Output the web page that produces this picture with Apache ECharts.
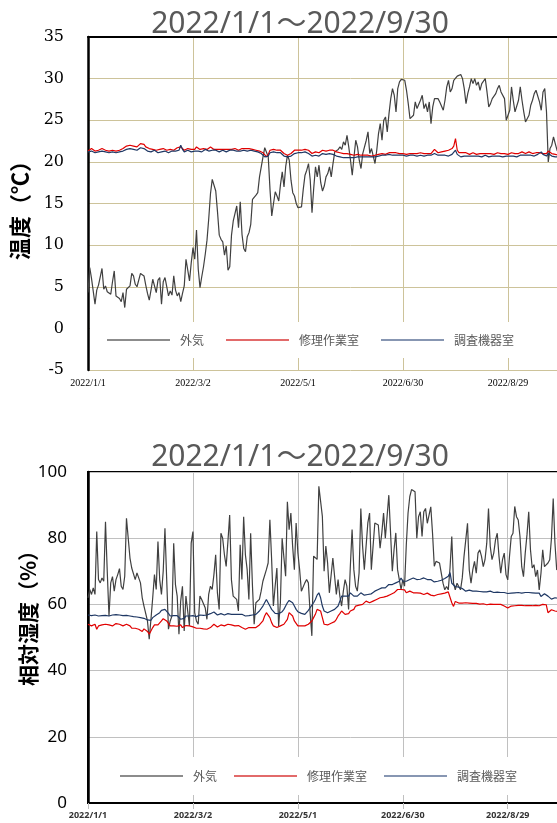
<!DOCTYPE html>
<html><head><meta charset="utf-8">
<script src="https://cdn.jsdelivr.net/npm/echarts@6/dist/echarts.min.js"></script>
<style>html,body{margin:0;padding:0;width:557px;height:823px;overflow:hidden;background:#fff}#c{width:640px;height:823px}</style>
</head><body><div id="c"></div>
<script>
const titleText = '2022/1/1～2022/9/30';
const seriesNames = ['外気', '修理作業室', '調査機器室'];
const xTickLabels = ['2022/1/1', '2022/3/2', '2022/5/1', '2022/6/30', '2022/8/29', '2022/10/28'];
const tempTicks = [-5, 35, 5];
const rhTicks = [0, 100, 20];

const tempOut = [
4.3,7.3,6.0,5.9,2.9,4.6,5.2,6.2,7.2,4.7,
5.1,4.4,4.6,4.1,5.6,6.9,3.9,3.8,3.6,3.2,
4.3,2.5,4.7,4.5,5.1,6.6,6.3,5.3,5.0,5.1,
6.6,6.5,6.3,5.2,4.2,3.4,4.6,5.9,6.1,4.3,
5.8,6.1,2.9,5.6,6.1,6.0,3.9,4.5,4.0,6.3,
4.6,3.9,4.3,3.2,4.2,5.1,8.3,8.4,5.7,7.9,
9.7,8.3,11.8,7.1,4.9,6.2,7.4,8.9,10.6,13.2,
16.2,17.9,18.0,16.5,14.0,11.2,10.7,10.4,8.8,9.9,
7.0,7.4,11.2,12.9,13.1,14.7,12.1,15.2,11.3,9.6,
9.2,11.0,11.5,12.5,15.5,15.6,16.0,16.3,18.2,18.3,
20.6,21.7,21.5,20.6,16.7,13.5,15.0,16.4,15.9,15.3,
17.3,18.8,17.0,19.5,20.8,20.2,17.8,16.3,15.9,15.0,
14.5,14.3,14.6,16.7,18.4,19.0,19.8,17.8,13.9,16.9,
19.4,18.2,19.6,17.5,16.5,17.1,18.2,18.6,19.4,18.2,
19.8,21.2,21.4,21.5,21.8,21.5,22.4,22.0,23.2,21.8,
20.2,18.4,20.6,22.6,21.8,20.2,19.2,21.0,20.8,22.6,
23.6,21.0,21.6,21.6,19.8,21.4,23.4,24.6,22.6,25.0,
25.4,23.6,25.8,27.6,28.8,28.0,26.0,28.8,29.6,29.9,
30.0,29.8,28.6,27.0,25.2,25.1,25.6,27.2,26.4,26.6,
27.4,28.0,26.4,27.0,26.0,27.2,24.6,26.6,27.6,27.4,
27.6,27.2,27.4,26.2,27.4,29.0,29.8,28.4,28.8,29.8,
30.0,30.3,30.5,30.5,30.0,28.8,27.0,28.2,29.0,30.0,
29.4,30.0,29.2,29.6,28.6,29.4,29.4,30.0,28.4,26.6,
27.0,27.6,27.4,28.2,28.8,29.2,28.4,28.6,27.6,25.0,
25.6,26.2,29.0,27.4,26.0,25.8,27.4,29.0,27.4,26.0,
24.8,24.6,25.6,26.8,27.4,28.2,28.6,28.4,27.2,26.2,
28.4,28.8,26.0,20.0,21.6,22.0,23.0,22.2,21.4,21.0,
21.8,22.4,21.6];

const tempRepair = [
21.3,21.4,21.6,21.4,21.3,21.5,21.4,21.3,21.6,21.5,
21.4,21.4,21.3,21.5,21.4,21.4,21.3,21.4,21.4,21.5,
21.6,21.8,21.9,21.9,22.0,22.0,21.9,21.7,21.8,22.0,
22.2,22.3,22.1,21.8,21.6,21.6,21.4,21.5,21.7,21.4,
21.3,21.5,21.4,21.6,21.5,21.4,21.3,21.5,21.6,21.4,
21.5,21.7,21.5,21.8,21.6,21.4,21.5,21.6,21.5,21.5,
21.6,21.5,21.8,21.6,21.5,21.4,21.6,21.7,21.5,21.6,
21.8,21.7,21.5,21.6,21.5,21.4,21.5,21.6,21.5,21.4,
21.5,21.6,21.5,21.7,21.6,21.5,21.4,21.5,21.6,21.7,
21.6,21.5,21.6,21.6,21.5,21.5,21.4,21.4,21.3,21.2,
21.1,20.9,20.6,20.9,21.4,21.4,21.5,21.5,21.4,21.5,
21.4,21.2,21.0,20.8,20.8,20.9,21.0,21.2,21.4,21.4,
21.4,21.5,21.4,21.4,21.5,21.4,21.4,21.2,21.0,21.2,
21.2,21.0,21.1,21.3,21.4,21.4,21.3,21.3,21.4,21.3,
21.4,21.3,21.2,21.2,21.1,21.0,21.0,21.1,21.0,20.9,
20.9,20.9,20.8,20.8,20.9,20.8,20.8,20.7,20.8,20.9,
20.8,20.8,20.7,20.6,20.8,20.9,20.9,21.0,21.0,21.0,
20.9,21.0,21.1,21.0,21.1,21.0,21.1,21.0,21.0,21.1,
21.0,21.0,20.9,21.0,21.0,20.9,21.0,21.1,21.0,21.0,
21.1,21.0,21.0,20.9,21.0,21.1,21.0,21.2,21.5,21.3,
21.1,21.1,21.2,21.2,21.3,21.3,21.4,21.4,21.6,21.9,
22.8,21.4,21.1,21.0,21.1,21.0,21.1,21.0,20.9,21.0,
21.1,21.0,20.9,21.0,21.0,20.9,21.0,21.1,21.0,20.9,
21.0,21.0,20.9,21.0,21.1,21.0,21.0,20.9,21.0,21.0,
20.9,21.0,21.1,21.0,21.0,20.9,21.0,21.1,21.2,21.1,
21.0,21.1,21.2,21.1,21.0,21.0,21.1,21.2,21.1,21.0,
21.0,21.1,21.0,21.3,21.1,21.0,20.9,20.9,20.8,20.8,
20.9,20.8,20.8];

const tempLab = [
21.2,21.2,21.3,21.2,21.1,21.3,21.2,21.2,21.3,21.2,
21.2,21.2,21.1,21.3,21.2,21.2,21.1,21.2,21.2,21.3,
21.3,21.4,21.5,21.5,21.6,21.6,21.5,21.4,21.4,21.6,
21.7,21.8,21.6,21.4,21.3,21.3,21.2,21.3,21.4,21.2,
21.1,21.3,21.2,21.3,21.3,21.2,21.1,21.3,21.3,21.2,
21.3,21.5,21.4,22.0,21.5,21.2,21.3,21.4,21.3,21.2,
21.4,21.3,21.5,21.3,21.2,21.2,21.4,21.5,21.3,21.3,
21.5,21.4,21.3,21.4,21.3,21.2,21.3,21.4,21.3,21.2,
21.3,21.4,21.3,21.4,21.4,21.3,21.2,21.3,21.4,21.4,
21.4,21.3,21.4,21.4,21.3,21.3,21.2,21.2,21.1,21.0,
20.8,20.6,20.5,20.7,21.1,21.1,21.2,21.2,21.1,21.2,
21.1,20.9,20.7,20.6,20.6,20.6,20.7,20.9,21.0,21.1,
21.1,21.2,21.1,21.1,21.2,21.1,21.0,20.9,20.7,20.8,
20.8,20.6,20.7,20.9,21.0,21.0,20.9,20.9,21.0,20.9,
20.9,20.8,20.7,20.6,20.6,20.5,20.5,20.6,20.5,20.5,
20.5,20.6,20.5,20.5,20.6,20.5,20.6,20.5,20.6,20.6,
20.6,20.7,20.6,20.5,20.6,20.7,20.7,20.8,20.8,20.8,
20.8,20.8,20.9,20.8,20.8,20.7,20.8,20.8,20.8,20.9,
20.8,20.7,20.7,20.8,20.8,20.7,20.8,20.8,20.7,20.7,
20.8,20.8,20.7,20.7,20.8,20.9,20.8,20.8,21.0,20.9,
20.8,20.8,20.8,20.7,20.8,20.8,20.7,20.8,20.9,21.1,
21.4,20.9,20.7,20.6,20.7,20.7,20.8,20.7,20.6,20.7,
20.8,20.7,20.6,20.7,20.7,20.6,20.7,20.8,20.7,20.6,
20.7,20.7,20.6,20.7,20.8,20.7,20.7,20.6,20.7,20.7,
20.6,20.7,20.8,20.7,20.7,20.6,20.7,20.8,20.9,20.8,
20.7,20.8,20.9,20.8,20.7,20.7,20.8,20.9,21.0,21.2,
20.9,20.8,20.7,21.0,20.8,20.7,20.6,20.6,20.5,20.6,
20.6,20.5,20.5];

const rhOut = [
62,64.5,63,65,63,82,67.5,66.5,68,67,
85,70,56.5,66.5,68.4,64,67.5,69,70.8,65.5,
64.5,68.5,86,80,74,71,70.5,67.5,69.5,68,
66.5,62,59.5,59,55,49.5,55.5,62,69,64.5,
79,67.5,63,70,83,67.5,52.5,55,56.5,78.5,
66,62.5,51,61,65.5,52,62.5,58,53.5,78.5,
82,57.5,55,54,62.5,61.5,61.5,59,55.5,63,
65.5,64.5,69,75,63.5,58.5,81.5,80,75,71.5,
79,87,67.5,62.5,62,61.5,58,78,67.5,86.5,
75,70.5,61.5,81.5,66,54,60.5,61,61.5,64,
67,67.5,70.5,72.5,85.6,73.5,59.5,65.5,71,53.5,
60.5,80,79.6,68.5,91,82.6,87.6,77.6,70.5,84.6,
75.6,70.5,64,63.5,66.5,67.5,66.5,57.5,50.5,74.6,
74,73.6,95.7,95.2,86.6,70,77.6,72.5,63.5,64,
74,68.5,63,67.5,62.5,59.5,64,67.5,65.5,58.5,
71.5,82.6,70.5,65.5,64,69.5,89,77.6,70.5,70,
84.6,87.6,70.5,70.5,84.6,85,84,77,81.6,87.6,
80,79.6,93,81.6,70,76.6,81.6,70.5,67.5,64.5,
67.5,65.5,78,87.6,92.6,94.7,94.5,94,80,86.5,
88,80.5,88,89,84.5,85,89.5,81.5,71.5,73,
73.5,72.5,72.5,66.4,64.4,65.4,64.4,71,80.5,66.4,
64.4,66.4,65.4,64.4,68,74.5,79.5,84.5,70.4,66.4,
70.4,73,69.4,75.5,76.5,74.5,71.4,73.5,78.5,89,
77.5,73.5,75.5,79.5,81.5,74.5,69.4,73.5,75.5,69,
67.4,74.5,80.5,81.5,89.6,86.5,85.5,80.5,71.4,68.4,
75.5,81,88,76.5,71,72,68.4,70.4,64.4,69.4,
76.5,71.4,72,72.5,73.5,80,92,78.5,70.4,72,
68,74,70];

const rhRepair = [
54.0,53.8,53.5,53.8,54.0,52.5,53.5,54.0,53.8,53.5,
54.0,54.2,53.8,54.0,53.5,54.0,54.2,53.8,54.0,53.6,
53.5,53.8,54.0,54.3,53.5,52.8,52.6,52.8,52.4,52.5,
52.0,51.8,52.6,52.2,51.8,51.0,51.5,53.0,53.8,54.0,
53.8,54.2,55.0,55.7,55.5,55.0,54.5,53.5,53.8,53.5,
53.6,53.4,53.5,53.8,53.0,53.5,53.6,53.8,53.5,53.4,
53.2,53.0,52.8,52.5,52.8,52.5,52.6,52.8,52.5,52.7,
53.0,53.4,54.0,53.4,53.2,53.5,53.8,53.6,53.5,53.8,
54.0,53.6,53.8,54.0,53.5,53.8,53.6,53.2,53.0,52.5,
52.5,52.8,53.0,53.2,53.0,53.2,53.0,53.5,53.8,54.2,
55.0,56.5,57.5,57.0,56.0,54.5,53.5,53.3,53.0,53.2,
53.5,53.5,54.0,54.5,55.5,57.5,57.0,56.5,55.0,54.5,
53.5,53.5,53.5,53.8,53.5,54.0,54.0,54.5,55.0,56.0,
57.0,58.5,59.0,58.0,56.0,54.0,53.5,53.8,54.0,54.3,
54.5,54.8,55.5,56.5,57.2,58.0,57.5,57.0,56.5,57.2,
58.0,57.8,58.5,59.5,60.0,59.8,59.5,60.0,60.5,61.0,
60.8,60.5,60.5,61.0,61.2,61.5,61.8,62.0,62.0,62.2,
62.5,62.5,62.8,63.0,63.2,63.5,64.0,64.5,65.0,64.5,
64.5,64.4,63.5,63.0,64.0,63.8,63.5,63.8,63.5,63.4,
63.4,63.2,63.0,63.3,63.4,63.0,62.8,62.6,62.6,62.8,
63.0,63.0,63.2,63.4,63.4,63.6,63.8,63.9,60.5,59.4,
60.9,60.6,60.4,60.5,60.4,60.6,60.5,60.2,60.4,60.5,
60.3,60.2,60.3,60.2,60.1,60.0,60.2,60.0,59.9,59.9,
60.1,60.2,60.0,59.9,60.0,60.1,60.0,59.8,59.5,59.0,
58.9,59.2,59.5,59.8,59.6,59.8,59.7,59.6,59.7,59.8,
59.6,59.7,59.6,59.7,59.6,59.8,59.7,59.8,59.6,59.9,
60.0,59.8,59.9,57.5,58.0,58.4,58.3,58.0,57.8,57.8,
58.0,57.8,58.0];

const rhLab = [
56.8,56.5,56.6,56.3,56.8,56.7,56.5,56.8,56.6,56.5,
56.7,56.8,56.5,56.6,56.8,56.7,56.9,56.6,56.8,56.5,
56.6,56.8,56.7,56.9,56.5,56.4,56.3,56.5,56.2,56.3,
56.0,55.8,55.8,55.5,55.3,55.0,55.2,56.0,56.6,56.8,
57.0,57.5,58.2,58.7,58.5,58.0,57.3,56.5,56.3,56.6,
56.5,56.6,56.3,55.5,55.0,55.8,56.5,56.6,56.5,56.8,
56.6,56.5,56.3,56.6,56.8,56.9,56.7,56.5,56.8,57.0,
57.2,57.5,57.7,57.2,56.8,57.0,57.2,57.0,56.8,57.0,
57.2,56.9,57.0,57.3,57.0,57.2,57.0,56.8,57.0,56.7,
56.5,56.5,56.6,56.5,56.8,56.6,57.0,57.5,58.0,58.5,
59.5,60.5,61.5,61.0,59.5,58.5,58.0,57.3,57.0,57.2,
57.5,57.8,58.5,59.5,60.5,61.2,61.5,60.5,59.5,58.5,
57.8,57.5,57.3,57.2,57.0,57.5,58.2,59.0,59.5,60.5,
61.5,62.8,63.5,62.0,59.5,58.0,57.6,57.5,57.8,58.0,
58.0,58.5,59.0,59.5,61.0,62.5,63.0,62.5,62.0,62.5,
63.5,63.2,62.5,62.0,62.5,63.0,63.5,63.0,62.8,62.5,
63.0,63.5,63.2,63.5,64.0,64.5,64.5,64.8,65.0,65.0,
65.0,65.5,66.0,66.2,66.0,66.5,66.5,66.8,67.0,68.0,
67.0,66.5,67.0,67.0,67.5,67.8,68.0,67.8,67.5,67.5,
67.6,67.8,68.0,67.8,67.5,67.3,67.5,67.0,66.8,67.0,
67.0,67.0,67.3,67.5,67.8,68.0,68.5,69.6,66.4,65.8,
65.4,65.4,65.2,65.0,64.8,64.6,64.0,64.2,64.3,64.2,
64.0,64.1,64.0,64.2,63.9,63.8,63.8,64.0,63.8,63.9,
64.0,63.8,63.6,63.6,63.7,63.8,63.6,63.4,63.6,63.4,
63.3,63.2,63.4,63.6,63.5,63.4,63.6,63.5,63.4,63.5,
63.6,63.8,63.6,63.4,63.5,63.6,63.4,63.5,63.4,62.4,
62.8,63.2,63.4,62.5,62.0,61.6,61.8,62.0,61.9,61.8,
62.0,61.8,62.0];

const colors = ['#404040', '#e00000', '#1f3864'];
const legendColors = ['#8c8c8c', '#e26a6a', '#8796b2'];
const tan = '#cdc39a';
const gray = '#c0c0c0';
const cjk = '"Noto Sans CJK JP", "Noto Sans", sans-serif';

function pairs(arr) { return arr.map((v, i) => [i, v]); }
function xFmt(v) { const k = Math.round(v / 60); return xTickLabels[k] || ''; }

const chart = echarts.init(document.getElementById('c'), null, {renderer: 'canvas'});

function mkSeries(arr, idx, axis) {
  return {
    name: seriesNames[idx], type: 'line', xAxisIndex: axis === 0 ? 0 : 2, yAxisIndex: axis,
    data: pairs(arr), symbol: 'none', showSymbol: false, animation: false,
    lineStyle: {color: colors[idx], width: 1.2}, itemStyle: {color: colors[idx]},
    emphasis: {disabled: true}
  };
}

const legendData = seriesNames.map((n, i) => ({name: n, itemStyle: {color: legendColors[i]}}));
const legendBase = {
  data: legendData, orient: 'horizontal', icon: 'rect', itemWidth: 63, itemHeight: 2, itemGap: 22,
  backgroundColor: '#fff', selectedMode: false,
  textStyle: {fontSize: 12, color: '#595959', fontFamily: cjk, padding: [0, 0, 0, 5]}
};

chart.setOption({
  animation: false,
  backgroundColor: '#fff',
  grid: [
    {left: 88, top: 37, width: 525, height: 333},
    {left: 88, top: 472, width: 525, height: 331, show: true, borderColor: '#000', borderWidth: 2, backgroundColor: 'transparent'}
  ],
  xAxis: [
    {gridIndex: 0, type: 'value', min: 0, max: 300, interval: 60,
     axisLine: {show: false, onZero: false}, axisTick: {show: false},
     axisLabel: {formatter: xFmt, fontFamily: '"Liberation Serif", serif', fontSize: 10, color: '#000', margin: 8},
     splitLine: {show: true, lineStyle: {color: tan, width: 1}}},
    {gridIndex: 0, type: 'value', position: 'top', min: 0, max: 300, interval: 60,
     axisLine: {show: true, onZero: false, lineStyle: {color: '#000', width: 2}}, axisTick: {show: false},
     axisLabel: {show: false}, splitLine: {show: false}},
    {gridIndex: 1, type: 'value', min: 0, max: 300, interval: 60,
     axisLine: {show: true, onZero: false, lineStyle: {color: '#000', width: 2}},
     axisTick: {show: true, length: 6, lineStyle: {color: '#bfbfbf'}},
     axisLabel: {formatter: xFmt, fontFamily: '"Noto Sans", sans-serif', fontWeight: 'bold', fontSize: 9, color: '#333', margin: 8},
     splitLine: {show: true, lineStyle: {color: gray, width: 1}}}
  ],
  yAxis: [
    {gridIndex: 0, type: 'value', min: tempTicks[0], max: tempTicks[1], interval: tempTicks[2],
     axisLine: {show: true, onZero: false, lineStyle: {color: '#000', width: 2.5}}, axisTick: {show: false},
     axisLabel: {fontFamily: '"DejaVu Serif", serif', fontSize: 16, color: '#000', margin: 24},
     splitLine: {show: true, lineStyle: {color: tan, width: 1}}},
    {gridIndex: 1, type: 'value', min: rhTicks[0], max: rhTicks[1], interval: rhTicks[2],
     axisLine: {show: true, onZero: false, lineStyle: {color: '#000', width: 2.5}}, axisTick: {show: false},
     axisLabel: {fontFamily: '"Noto Sans", sans-serif', fontSize: 17, color: '#000', margin: 21},
     splitLine: {show: true, lineStyle: {color: gray, width: 1}}}
  ],
  legend: [
    Object.assign({}, legendBase, {left: 90, top: 322, padding: [12, 60, 12, 17]}),
    Object.assign({}, legendBase, {left: 90, top: 757, itemGap: 17, padding: [13, 60, 13, 30]})
  ],
  graphic: [
    {type: 'text', x: 300, y: 24, z: 10, style: {text: titleText, fill: '#595959', font: '30px "Noto Sans", "Noto Sans CJK JP", sans-serif', textAlign: 'center', textVerticalAlign: 'middle'}},
    {type: 'text', x: 300, y: 457, z: 10, style: {text: titleText, fill: '#595959', font: '30px "Noto Sans", "Noto Sans CJK JP", sans-serif', textAlign: 'center', textVerticalAlign: 'middle'}},
    {type: 'text', x: 20, y: 205, rotation: Math.PI / 2, z: 10, style: {text: '温度（℃）', fill: '#000', font: 'bold 22px ' + cjk, textAlign: 'center', textVerticalAlign: 'middle'}},
    {type: 'text', x: 28, y: 613, rotation: Math.PI / 2, z: 10, style: {text: '相対湿度（%）', fill: '#000', font: 'bold 21px ' + cjk, textAlign: 'center', textVerticalAlign: 'middle'}}
  ],
  series: [
    mkSeries(tempOut, 0, 0), mkSeries(tempRepair, 1, 0), mkSeries(tempLab, 2, 0),
    mkSeries(rhOut, 0, 1), mkSeries(rhRepair, 1, 1), mkSeries(rhLab, 2, 1)
  ]
});
</script></body></html>
